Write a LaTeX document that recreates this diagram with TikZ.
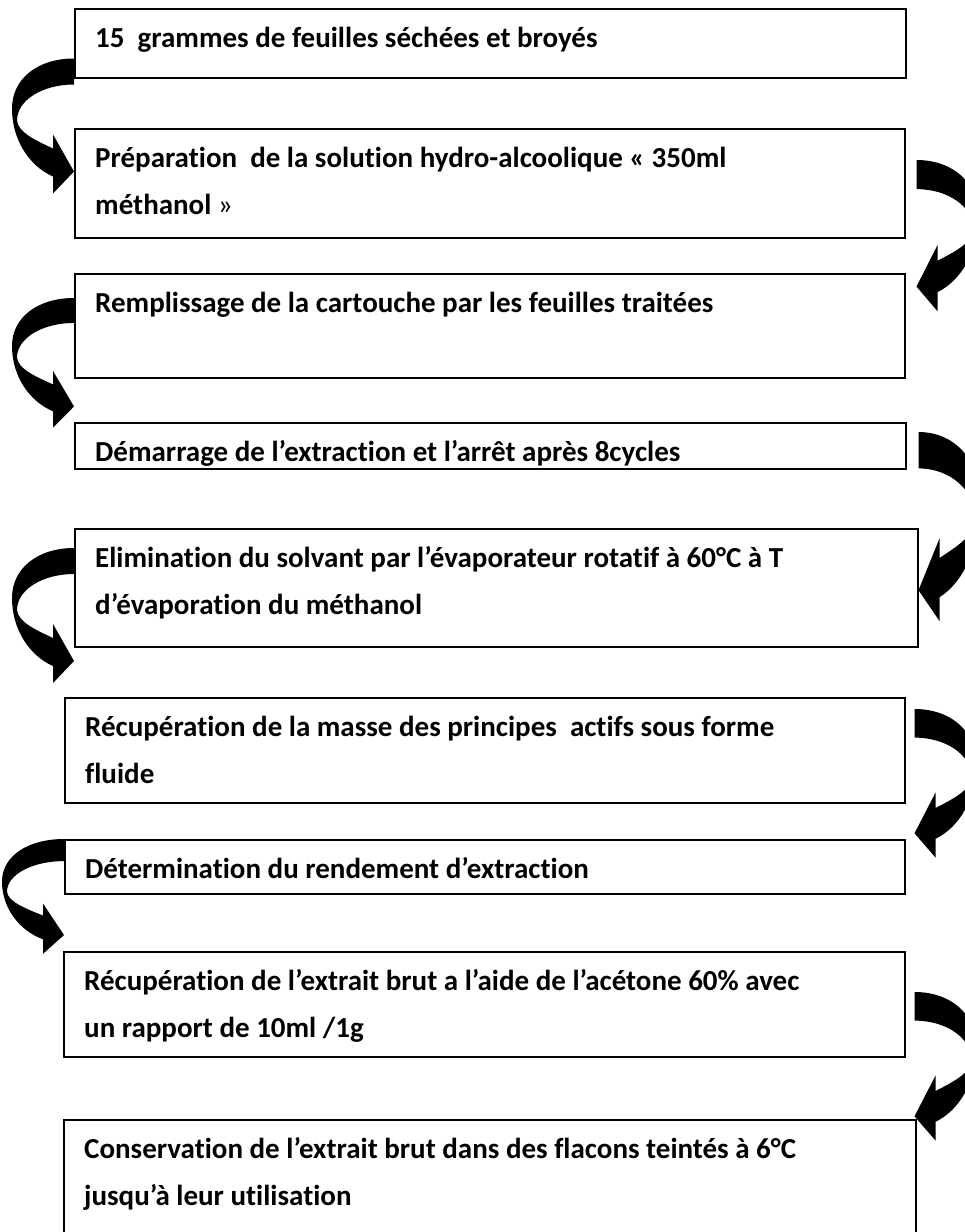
\documentclass[tikz,border=0pt]{standalone}
\usepackage{fontspec}
\setmainfont{Carlito}[Ligatures=NoCommon]
\usetikzlibrary{positioning}

\begin{document}
\begin{tikzpicture}[
  x=1pt, y=-1pt,
  box/.style={rectangle, draw=black, line width=1.5pt, fill=white, anchor=north west, inner sep=0pt},
  txt/.style={anchor=north west, inner sep=0pt, align=left, font=\fontsize{29}{47}\selectfont\bfseries},
  %---- curved block arrow, origin = top of the band, tip points back to x=0 ----
  pics/crv/.style={code={
    \fill[black] (0,0) .. controls (-36,0) and (-62,20) .. (-62,50)
      .. controls (-62,82) and (-44,108) .. (-21,118)
      -- (-21,135) -- (0,113) -- (-21,76) -- (-21,90)
      .. controls (-38,82) and (-56,74) .. (-57,62)
      .. controls (-57,42) and (-32,26) .. (0,26) -- cycle;}},
]
\useasboundingbox (0,0) rectangle (965,1232);
\newcommand{\etape}[2]{% box name, text
  \node[txt] at ([xshift=21pt,yshift=-6pt]#1.north west) {\strut #2};}

% ---------- boxes ----------
\node[box, minimum width=831pt, minimum height=69pt]  (b1) at (74,8)    {};
\node[box, minimum width=830pt, minimum height=109pt] (b2) at (74,128)  {};
\node[box, minimum width=830pt, minimum height=104pt] (b3) at (74,273)  {};
\node[box, minimum width=831pt, minimum height=46pt]  (b4) at (74,422)  {};
\node[box, minimum width=843pt, minimum height=118pt] (b5) at (74,528)  {};
\node[box, minimum width=840pt, minimum height=105pt] (b6) at (64,697)  {};
\node[box, minimum width=840pt, minimum height=54pt]  (b7) at (64,839)  {};
\node[box, minimum width=841pt, minimum height=105pt] (b8) at (63,951)  {};
\node[box, minimum width=852pt, minimum height=130pt] (b9) at (63,1119) {};

% ---------- texts ----------
\etape{b1}{15\ \ grammes de feuilles séchées et broyés}
\etape{b2}{Préparation\ \ de la solution hydro-alcoolique « 350ml\\méthanol {\mdseries »}}
\etape{b3}{Remplissage de la cartouche par les feuilles traitées}
\etape{b4}{Démarrage de l’extraction et l’arrêt après 8cycles}
\etape{b5}{Elimination du solvant par l’évaporateur rotatif à 60°C à T\\d’évaporation du méthanol}
\etape{b6}{Récupération de la masse des principes\ \ actifs sous forme\\fluide}
\etape{b7}{Détermination du rendement d’extraction}
\etape{b8}{Récupération de l’extrait brut a l’aide de l’acétone 60\% avec\\un rapport de 10ml /1g}
\etape{b9}{Conservation de l’extrait brut dans des flacons teintés à 6°C\\jusqu’à leur utilisation}

% ---------- curved arrows ----------
\pic[yscale=1.0]             at ([yshift=20pt]b1.south west)               {crv};
\pic[xscale=-1, yscale=1.12] at ([xshift=11pt,yshift=-32pt]b2.north east) {crv};
\pic[yscale=0.96]            at ([yshift=-25pt]b3.north west)              {crv};
\pic[xscale=-1, yscale=1.4]  at ([xshift=12pt,yshift=-10pt]b4.north east) {crv};
\pic[yscale=1.0]             at ([yshift=-20pt]b5.north west)              {crv};
\pic[xscale=-1, yscale=1.1]  at ([xshift=9pt,yshift=-12pt]b6.north east)  {crv};
\pic[yscale=0.85]            at (b7.north west)                            {crv};
\pic[xscale=-1, yscale=1.1]  at ([xshift=9pt,yshift=-41pt]b8.north east)  {crv};
\end{tikzpicture}
\end{document}
